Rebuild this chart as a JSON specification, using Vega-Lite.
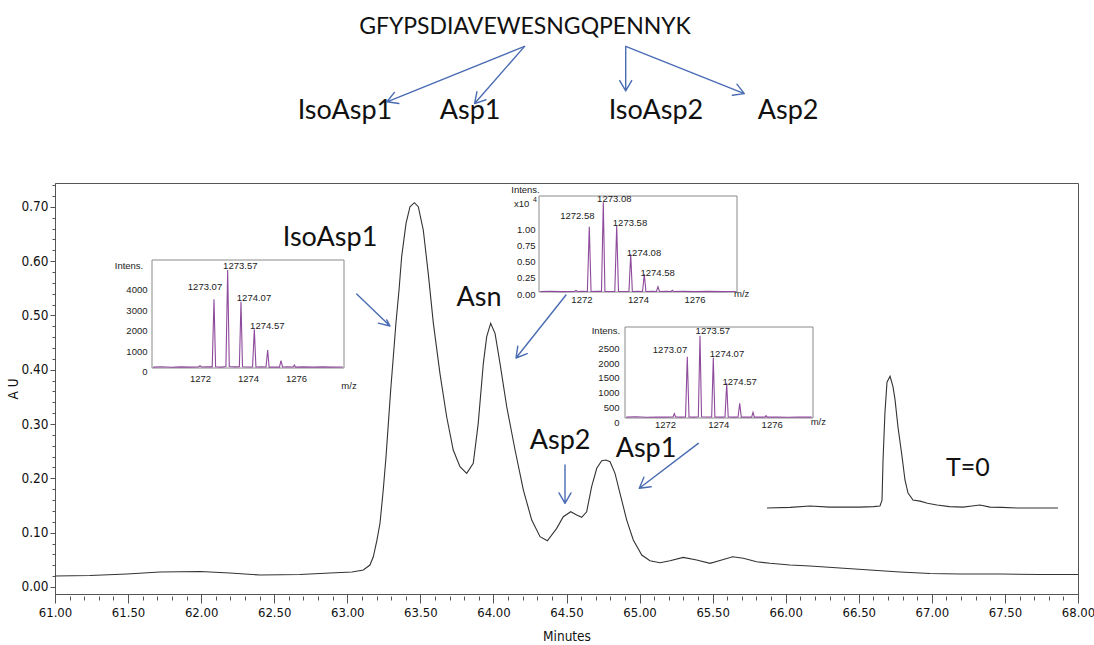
{
  "$schema": "https://vega.github.io/schema/vega-lite/v6.json",
  "width": 1023,
  "height": 411,
  "autosize": "none",
  "padding": {"left": 55, "top": 183, "right": 16, "bottom": 51},
  "background": "white",
  "config": {
    "view": {"stroke": "#555", "strokeWidth": 1},
    "axis": {"grid": false, "labelFlush": false, "labelOverlap": false, "labelBound": false}
  },
  "datasets": {
    "main": [
      {"t":61.000,"v":0.0201},{"t":61.239,"v":0.0210},{"t":61.493,"v":0.0238},{"t":61.718,"v":0.0274},{"t":61.992,"v":0.0284},{"t":62.197,"v":0.0256},{"t":62.403,"v":0.0219},{"t":62.676,"v":0.0228},{"t":62.882,"v":0.0256},{"t":63.032,"v":0.0274},
      {"t":63.110,"v":0.0311},{"t":63.155,"v":0.0403},{"t":63.178,"v":0.0556},{"t":63.203,"v":0.0864},{"t":63.224,"v":0.1177},{"t":63.246,"v":0.1785},{"t":63.265,"v":0.2398},{"t":63.281,"v":0.3013},{"t":63.297,"v":0.3627},{"t":63.315,"v":0.4240},
      {"t":63.333,"v":0.4861},{"t":63.354,"v":0.5469},{"t":63.372,"v":0.6082},{"t":63.402,"v":0.6697},{"t":63.429,"v":0.7003},{"t":63.459,"v":0.7077},{"t":63.486,"v":0.7003},{"t":63.520,"v":0.6574},{"t":63.554,"v":0.5776},{"t":63.589,"v":0.4855},
      {"t":63.634,"v":0.3934},{"t":63.680,"v":0.3135},{"t":63.725,"v":0.2522},{"t":63.771,"v":0.2214},{"t":63.817,"v":0.2092},{"t":63.862,"v":0.2277},{"t":63.896,"v":0.3013},{"t":63.931,"v":0.4119},{"t":63.954,"v":0.4609},{"t":63.981,"v":0.4855},
      {"t":64.011,"v":0.4671},{"t":64.045,"v":0.4119},{"t":64.091,"v":0.3319},{"t":64.148,"v":0.2522},{"t":64.205,"v":0.1785},{"t":64.262,"v":0.1232},{"t":64.319,"v":0.0925},{"t":64.369,"v":0.0851},{"t":64.433,"v":0.1079},{"t":64.478,"v":0.1293},
      {"t":64.529,"v":0.1385},{"t":64.570,"v":0.1324},{"t":64.604,"v":0.1282},{"t":64.638,"v":0.1385},{"t":64.672,"v":0.1846},{"t":64.707,"v":0.2185},{"t":64.741,"v":0.2325},{"t":64.770,"v":0.2337},{"t":64.798,"v":0.2306},{"t":64.832,"v":0.2092},
      {"t":64.866,"v":0.1724},{"t":64.912,"v":0.1232},{"t":64.957,"v":0.0864},{"t":65.015,"v":0.0588},{"t":65.071,"v":0.0483},{"t":65.140,"v":0.0446},{"t":65.208,"v":0.0483},{"t":65.299,"v":0.0545},{"t":65.391,"v":0.0495},{"t":65.482,"v":0.0435},
      {"t":65.562,"v":0.0495},{"t":65.637,"v":0.0556},{"t":65.710,"v":0.0527},{"t":65.801,"v":0.0464},{"t":65.892,"v":0.0435},{"t":66.029,"v":0.0403},{"t":66.166,"v":0.0385},{"t":66.371,"v":0.0348},{"t":66.577,"v":0.0311},{"t":66.782,"v":0.0274},
      {"t":66.987,"v":0.0247},{"t":67.193,"v":0.0238},{"t":67.466,"v":0.0238},{"t":67.740,"v":0.0228},{"t":68.000,"v":0.0228}
    ],
    "t0": [
      {"t":65.872,"v":0.1455},{"t":66.03,"v":0.1465},{"t":66.166,"v":0.149},{"t":66.30,"v":0.147},{"t":66.508,"v":0.147},{"t":66.60,"v":0.148},{"t":66.645,"v":0.149},{"t":66.659,"v":0.160},{"t":66.666,"v":0.234},{"t":66.679,"v":0.321},
      {"t":66.693,"v":0.377},{"t":66.714,"v":0.388},{"t":66.734,"v":0.369},{"t":66.748,"v":0.345},{"t":66.768,"v":0.295},{"t":66.796,"v":0.240},{"t":66.816,"v":0.197},{"t":66.837,"v":0.173},{"t":66.871,"v":0.160},{"t":66.919,"v":0.158},
      {"t":66.97,"v":0.154},{"t":67.035,"v":0.151},{"t":67.12,"v":0.148},{"t":67.213,"v":0.147},{"t":67.275,"v":0.149},{"t":67.329,"v":0.151},{"t":67.398,"v":0.147},{"t":67.48,"v":0.1465},{"t":67.583,"v":0.1455},{"t":67.70,"v":0.1455},{"t":67.863,"v":0.1455}
    ],
    "arrows": [
      {"seg":"A1","k":0,"t":64.213,"v":0.9956},{"seg":"A1","k":1,"t":63.2717,"v":0.8936},{"seg":"A1","k":2,"t":63.3532,"v":0.8904},{"seg":"A1","k":3,"t":63.2717,"v":0.8936},{"seg":"A1","k":4,"t":63.3224,"v":0.9109},
      {"seg":"A2","k":0,"t":64.213,"v":0.9956},{"seg":"A2","k":1,"t":63.8712,"v":0.8903},{"seg":"A2","k":2,"t":63.9492,"v":0.8974},{"seg":"A2","k":3,"t":63.8712,"v":0.8903},{"seg":"A2","k":4,"t":63.8869,"v":0.9120},
      {"seg":"A3","k":0,"t":64.9051,"v":0.9956},{"seg":"A3","k":1,"t":64.9051,"v":0.9135},{"seg":"A3","k":2,"t":64.9462,"v":0.9326},{"seg":"A3","k":3,"t":64.9051,"v":0.9135},{"seg":"A3","k":4,"t":64.8641,"v":0.9326},
      {"seg":"A4","k":0,"t":64.9051,"v":0.9956},{"seg":"A4","k":1,"t":65.7166,"v":0.9087},{"seg":"A4","k":2,"t":65.6660,"v":0.9260},{"seg":"A4","k":3,"t":65.7166,"v":0.9087},{"seg":"A4","k":4,"t":65.6352,"v":0.9055},
      {"seg":"M1","k":0,"t":63.0644,"v":0.5395},{"seg":"M1","k":1,"t":63.2923,"v":0.4806},{"seg":"M1","k":2,"t":63.2697,"v":0.4918},{"seg":"M1","k":3,"t":63.2923,"v":0.4806},{"seg":"M1","k":4,"t":63.2122,"v":0.4859},
      {"seg":"M2","k":0,"t":64.4966,"v":0.5377},{"seg":"M2","k":1,"t":64.1544,"v":0.4217},{"seg":"M2","k":2,"t":64.2311,"v":0.4298},{"seg":"M2","k":3,"t":64.1544,"v":0.4217},{"seg":"M2","k":4,"t":64.1667,"v":0.4436},
      {"seg":"M3","k":0,"t":64.4897,"v":0.2246},{"seg":"M3","k":1,"t":64.4897,"v":0.1540},{"seg":"M3","k":2,"t":64.5308,"v":0.1732},{"seg":"M3","k":3,"t":64.4897,"v":0.1540},{"seg":"M3","k":4,"t":64.4487,"v":0.1732},
      {"seg":"M4","k":0,"t":65.4019,"v":0.2645},{"seg":"M4","k":1,"t":64.9982,"v":0.1817},{"seg":"M4","k":2,"t":65.0796,"v":0.1845},{"seg":"M4","k":3,"t":64.9982,"v":0.1817},{"seg":"M4","k":4,"t":65.0296,"v":0.2021}
    ],
    "labels": [
      {"g":"seq","label":"GFYPSDIAVEWESNGQPENNYK","t":64.216,"v":1.019},
      {"g":"big","label":"IsoAsp1","t":62.984,"v":0.862},
      {"g":"big","label":"Asp1","t":63.840,"v":0.862},
      {"g":"big","label":"IsoAsp2","t":65.112,"v":0.862},
      {"g":"big","label":"Asp2","t":66.016,"v":0.862},
      {"g":"big","label":"IsoAsp1","t":62.882,"v":0.628},
      {"g":"big","label":"Asn","t":63.901,"v":0.5174},
      {"g":"big","label":"Asp2","t":64.456,"v":0.254},
      {"g":"big","label":"Asp1","t":65.044,"v":0.240},
      {"g":"t0","label":"T=0","t":67.247,"v":0.2043}
    ],
    "s1": [
      {"mz":1270.05,"i":45},{"mz":1270.4,"i":60},{"mz":1270.8,"i":40},{"mz":1271.2,"i":55},{"mz":1271.6,"i":45},{"mz":1271.93,"i":50},{"mz":1272.0,"i":110},{"mz":1272.07,"i":50},{"mz":1272.3,"i":60},
      {"mz":1272.51,"i":55},{"mz":1272.583,"i":3368},{"mz":1272.65,"i":60},{"mz":1272.9,"i":45},{"mz":1273.08,"i":70},{"mz":1273.153,"i":4804},{"mz":1273.22,"i":70},{"mz":1273.45,"i":55},
      {"mz":1273.64,"i":60},{"mz":1273.708,"i":3250},{"mz":1273.77,"i":60},{"mz":1274.0,"i":50},{"mz":1274.19,"i":55},{"mz":1274.264,"i":1897},{"mz":1274.33,"i":50},{"mz":1274.55,"i":60},
      {"mz":1274.75,"i":50},{"mz":1274.819,"i":882},{"mz":1274.88,"i":45},{"mz":1275.1,"i":50},{"mz":1275.31,"i":45},{"mz":1275.375,"i":358},{"mz":1275.44,"i":50},{"mz":1275.65,"i":55},
      {"mz":1275.88,"i":50},{"mz":1275.93,"i":147},{"mz":1275.98,"i":45},{"mz":1276.3,"i":55},{"mz":1276.7,"i":45},{"mz":1277.1,"i":55},{"mz":1277.5,"i":45},{"mz":1277.95,"i":50}
    ],
    "s2": [
      {"mz":1270.55,"i":0.008},{"mz":1270.9,"i":0.01},{"mz":1271.3,"i":0.006},{"mz":1271.75,"i":0.008},{"mz":1271.808,"i":0.025},{"mz":1271.86,"i":0.008},{"mz":1272.05,"i":0.01},
      {"mz":1272.21,"i":0.008},{"mz":1272.278,"i":1.005},{"mz":1272.34,"i":0.008},{"mz":1272.55,"i":0.012},{"mz":1272.71,"i":0.01},{"mz":1272.773,"i":1.38},{"mz":1272.83,"i":0.01},
      {"mz":1273.0,"i":0.008},{"mz":1273.18,"i":0.01},{"mz":1273.247,"i":1.02},{"mz":1273.31,"i":0.01},{"mz":1273.5,"i":0.008},{"mz":1273.68,"i":0.008},{"mz":1273.742,"i":0.58},
      {"mz":1273.8,"i":0.008},{"mz":1274.0,"i":0.01},{"mz":1274.16,"i":0.008},{"mz":1274.223,"i":0.272},{"mz":1274.28,"i":0.008},{"mz":1274.5,"i":0.01},{"mz":1274.65,"i":0.008},
      {"mz":1274.707,"i":0.082},{"mz":1274.76,"i":0.008},{"mz":1275.0,"i":0.01},{"mz":1275.17,"i":0.008},{"mz":1275.213,"i":0.026},{"mz":1275.26,"i":0.008},{"mz":1275.6,"i":0.01},
      {"mz":1276.0,"i":0.006},{"mz":1276.5,"i":0.01},{"mz":1277.0,"i":0.006},{"mz":1277.45,"i":0.008}
    ],
    "s3": [
      {"mz":1270.55,"i":30},{"mz":1270.9,"i":40},{"mz":1271.3,"i":25},{"mz":1271.7,"i":35},{"mz":1272.0,"i":30},{"mz":1272.3,"i":35},{"mz":1272.349,"i":146},{"mz":1272.4,"i":35},
      {"mz":1272.6,"i":30},{"mz":1272.77,"i":35},{"mz":1272.836,"i":2078},{"mz":1272.9,"i":35},{"mz":1273.1,"i":30},{"mz":1273.25,"i":40},{"mz":1273.312,"i":2790},{"mz":1273.37,"i":40},
      {"mz":1273.6,"i":35},{"mz":1273.75,"i":35},{"mz":1273.811,"i":2044},{"mz":1273.87,"i":35},{"mz":1274.1,"i":30},{"mz":1274.25,"i":35},{"mz":1274.314,"i":1176},{"mz":1274.37,"i":35},
      {"mz":1274.6,"i":30},{"mz":1274.74,"i":35},{"mz":1274.801,"i":498},{"mz":1274.86,"i":30},{"mz":1275.1,"i":35},{"mz":1275.25,"i":30},{"mz":1275.30,"i":193},{"mz":1275.35,"i":30},
      {"mz":1275.6,"i":35},{"mz":1275.75,"i":30},{"mz":1275.788,"i":78},{"mz":1275.83,"i":30},{"mz":1276.2,"i":35},{"mz":1276.6,"i":25},{"mz":1277.0,"i":35},{"mz":1277.5,"i":30}
    ],
    "t1": [
      {"label":"1273.07","mz":1272.208,"i":3985},{"label":"1273.57","mz":1273.679,"i":4985},{"label":"1274.07","mz":1274.25,"i":3417},{"label":"1274.57","mz":1274.804,"i":2044},
      {"label":"Intens.","mz":1269.042,"i":5000},{"label":"m/z","mz":1278.208,"i":-882}
    ],
    "t2": [
      {"label":"1272.58","mz":1271.854,"i":1.174},{"label":"1273.08","mz":1273.162,"i":1.431},{"label":"1273.58","mz":1273.717,"i":1.066},{"label":"1274.08","mz":1274.212,"i":0.595},{"label":"1274.58","mz":1274.696,"i":0.288},
      {"label":"Intens.","mz":1270.023,"i":1.565},{"label":"x10","mz":1269.888,"i":1.36},{"label":"m/z","mz":1277.666,"i":-0.026}
    ],
    "t2sup": [{"label":"4","mz":1270.36,"i":1.415}],
    "t3": [
      {"label":"1273.07","mz":1272.1875,"i":2305},{"label":"1273.57","mz":1273.792,"i":2949},{"label":"1274.07","mz":1274.325,"i":2159},{"label":"1274.57","mz":1274.801,"i":1220},
      {"label":"Intens.","mz":1269.7875,"i":2966},{"label":"m/z","mz":1277.749,"i":-146}
    ],
    "f1": [{"mz":1270,"mz2":1278,"i":0,"i2":5294}],
    "f2": [{"mz":1270.5,"mz2":1277.5,"i":0,"i2":1.477}],
    "f3": [{"mz":1270.5,"mz2":1277.55,"i":0,"i2":3085}]
  },
  "layer": [
    {
      "encoding": {
        "x": {"field": "t", "type": "quantitative",
          "scale": {"domain": [61, 68], "nice": false, "zero": false},
          "axis": {"orient": "bottom", "values": [61,61.5,62,62.5,63,63.5,64,64.5,65,65.5,66,66.5,67,67.5,68], "format": ".2f",
            "tickSize": 9, "tickColor": "#555", "domainColor": "#555", "labelPadding": 3,
            "labelFont": "DejaVu Sans Condensed, DejaVu Sans, sans-serif", "labelFontSize": 13, "labelColor": "#111",
            "title": "Minutes", "titleFont": "DejaVu Sans Condensed, DejaVu Sans, sans-serif", "titleFontSize": 13.5, "titleFontWeight": "normal", "titleColor": "#111", "titlePadding": 10}},
        "y": {"field": "v", "type": "quantitative",
          "scale": {"domain": [-0.013, 0.744], "nice": false, "zero": false},
          "axis": {"orient": "left", "values": [0,0.1,0.2,0.3,0.4,0.5,0.6,0.7], "format": ".2f",
            "tickSize": 5, "tickColor": "#555", "domainColor": "#555", "labelPadding": 2,
            "labelFont": "DejaVu Sans Condensed, DejaVu Sans, sans-serif", "labelFontSize": 13.5, "labelColor": "#111",
            "title": "A U", "titleFont": "DejaVu Sans Condensed, DejaVu Sans, sans-serif", "titleFontSize": 13.5, "titleFontWeight": "normal", "titleColor": "#111", "titlePadding": 0}}
      },
      "layer": [
        {"data": {"name": "main"}, "mark": {"type": "line", "color": "#333", "strokeWidth": 1.1}},
        {"data": {"name": "t0"}, "mark": {"type": "line", "color": "#333", "strokeWidth": 1.1}},
        {"data": {"name": "arrows"}, "mark": {"type": "line", "color": "#4a6cb3", "strokeWidth": 1.4, "strokeCap": "round", "strokeJoin": "round"},
          "encoding": {"detail": {"field": "seg"}, "order": {"field": "k", "type": "quantitative"}}},
        {"data": {"name": "labels"}, "transform": [{"filter": "datum.g === 'seq'"}],
          "mark": {"type": "text", "font": "Lato", "fontSize": 23, "align": "center", "baseline": "alphabetic", "color": "#111"},
          "encoding": {"text": {"field": "label"}}},
        {"data": {"name": "labels"}, "transform": [{"filter": "datum.g === 'big'"}],
          "mark": {"type": "text", "font": "Lato", "fontSize": 27, "align": "center", "baseline": "alphabetic", "color": "#111"},
          "encoding": {"text": {"field": "label"}}},
        {"data": {"name": "labels"}, "transform": [{"filter": "datum.g === 't0'"}],
          "mark": {"type": "text", "font": "Lato", "fontSize": 25, "align": "center", "baseline": "alphabetic", "color": "#111"},
          "encoding": {"text": {"field": "label"}}}
      ]
    },
    {
      "data": {"name": "main"},
      "mark": {"type": "point", "opacity": 0},
      "encoding": {
        "x": {"field": "t", "type": "quantitative",
          "scale": {"domain": [61, 68], "nice": false, "zero": false},
          "axis": {"orient": "bottom", "offset": 2, "values": [61.1,61.2,61.3,61.4,61.6,61.7,61.8,61.9,62.1,62.2,62.3,62.4,62.6,62.7,62.8,62.9,63.1,63.2,63.3,63.4,63.6,63.7,63.8,63.9,64.1,64.2,64.3,64.4,64.6,64.7,64.8,64.9,65.1,65.2,65.3,65.4,65.6,65.7,65.8,65.9,66.1,66.2,66.3,66.4,66.6,66.7,66.8,66.9,67.1,67.2,67.3,67.4,67.6,67.7,67.8,67.9],
            "labels": false, "domain": false, "tickSize": 4, "tickColor": "#555", "title": null}},
        "y": {"field": "v", "type": "quantitative",
          "scale": {"domain": [-0.013, 0.744], "nice": false, "zero": false},
          "axis": {"orient": "left", "values": [0.02,0.04,0.06,0.08,0.12,0.14,0.16,0.18,0.22,0.24,0.26,0.28,0.32,0.34,0.36,0.38,0.42,0.44,0.46,0.48,0.52,0.54,0.56,0.58,0.62,0.64,0.66,0.68,0.72,0.74],
            "labels": false, "domain": false, "tickSize": 3, "tickColor": "#555", "title": null}}
      }
    },
    {
      "encoding": {
        "x": {"field": "mz", "type": "quantitative",
          "scale": {"domain": [1270, 1278], "range": [97, 289], "nice": false, "zero": false},
          "axis": {"orient": "bottom", "offset": -226, "values": [1272, 1274, 1276], "format": "d", "domain": false, "ticks": false, "labelPadding": 5,
            "labelFont": "Liberation Sans", "labelFontSize": 9.5, "labelColor": "#222", "title": null}},
        "y": {"field": "i", "type": "quantitative",
          "scale": {"domain": [0, 5294], "range": [185, 77], "nice": false, "zero": false},
          "axis": {"orient": "left", "offset": -97, "values": [0, 1000, 2000, 3000, 4000], "format": "d", "domain": false, "ticks": false, "labelPadding": 5, "labelOffset": 3.5,
            "labelFont": "Liberation Sans", "labelFontSize": 9.5, "labelColor": "#222", "title": null}}
      },
      "layer": [
        {"data": {"name": "f1"}, "mark": {"type": "rect", "filled": false, "color": "#8a8a8a", "strokeWidth": 1}, "encoding": {"x2": {"field": "mz2"}, "y2": {"field": "i2"}}},
        {"data": {"name": "s1"}, "mark": {"type": "line", "color": "#8e4a9c", "strokeWidth": 1.1}},
        {"data": {"name": "t1"}, "mark": {"type": "text", "font": "Liberation Sans", "fontSize": 9.5, "color": "#222", "align": "center", "baseline": "middle"}, "encoding": {"text": {"field": "label"}}}
      ]
    },
    {
      "encoding": {
        "x": {"field": "mz", "type": "quantitative",
          "scale": {"domain": [1270.5, 1277.5], "range": [484, 682], "nice": false, "zero": false},
          "axis": {"orient": "bottom", "offset": -302, "values": [1272, 1274, 1276], "format": "d", "domain": false, "ticks": false, "labelPadding": 2,
            "labelFont": "Liberation Sans", "labelFontSize": 9.5, "labelColor": "#222", "title": null}},
        "y": {"field": "i", "type": "quantitative",
          "scale": {"domain": [0, 1.477], "range": [109, 13], "nice": false, "zero": false},
          "axis": {"orient": "left", "offset": -484, "values": [0, 0.25, 0.5, 0.75, 1.0], "format": ".2f", "domain": false, "ticks": false, "labelPadding": 4, "labelOffset": 2,
            "labelFont": "Liberation Sans", "labelFontSize": 9.5, "labelColor": "#222", "title": null}}
      },
      "layer": [
        {"data": {"name": "f2"}, "mark": {"type": "rect", "filled": false, "color": "#8a8a8a", "strokeWidth": 1}, "encoding": {"x2": {"field": "mz2"}, "y2": {"field": "i2"}}},
        {"data": {"name": "s2"}, "mark": {"type": "line", "color": "#8e4a9c", "strokeWidth": 1.1}},
        {"data": {"name": "t2"}, "mark": {"type": "text", "font": "Liberation Sans", "fontSize": 9.5, "color": "#222", "align": "center", "baseline": "middle"}, "encoding": {"text": {"field": "label"}}},
        {"data": {"name": "t2sup"}, "mark": {"type": "text", "font": "Liberation Sans", "fontSize": 7, "color": "#222", "align": "center", "baseline": "middle"}, "encoding": {"text": {"field": "label"}}}
      ]
    },
    {
      "encoding": {
        "x": {"field": "mz", "type": "quantitative",
          "scale": {"domain": [1270.5, 1277.55], "range": [570, 758], "nice": false, "zero": false},
          "axis": {"orient": "bottom", "offset": -176, "values": [1272, 1274, 1276], "format": "d", "domain": false, "ticks": false, "labelPadding": 1,
            "labelFont": "Liberation Sans", "labelFontSize": 9.5, "labelColor": "#222", "title": null}},
        "y": {"field": "i", "type": "quantitative",
          "scale": {"domain": [0, 3085], "range": [235, 144], "nice": false, "zero": false},
          "axis": {"orient": "left", "offset": -570, "values": [0, 500, 1000, 1500, 2000, 2500], "format": "d", "domain": false, "ticks": false, "labelPadding": 6, "labelOffset": 4,
            "labelFont": "Liberation Sans", "labelFontSize": 9.5, "labelColor": "#222", "title": null}}
      },
      "layer": [
        {"data": {"name": "f3"}, "mark": {"type": "rect", "filled": false, "color": "#8a8a8a", "strokeWidth": 1}, "encoding": {"x2": {"field": "mz2"}, "y2": {"field": "i2"}}},
        {"data": {"name": "s3"}, "mark": {"type": "line", "color": "#8e4a9c", "strokeWidth": 1.1}},
        {"data": {"name": "t3"}, "mark": {"type": "text", "font": "Liberation Sans", "fontSize": 9.5, "color": "#222", "align": "center", "baseline": "middle"}, "encoding": {"text": {"field": "label"}}}
      ]
    }
  ],
  "resolve": {"scale": {"x": "independent", "y": "independent"}}
}
